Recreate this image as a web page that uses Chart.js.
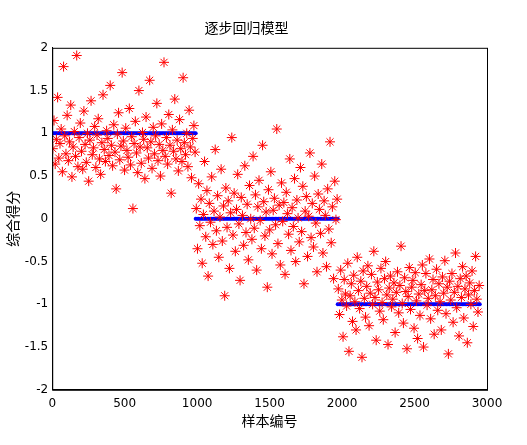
<!DOCTYPE html>
<html>
<head>
<meta charset="utf-8">
<script src="https://cdn.jsdelivr.net/npm/chart.js@4"></script>
<style>
  html, body { margin: 0; padding: 0; background: #fff; }
  #wrap { width: 527px; height: 445px; }
</style>
</head>
<body>
<div id="wrap"><canvas id="c"></canvas></div>
<script>
'use strict'

// Class ranges (sample index) and their true labels
const classStarts = [0, 990, 1970];
const classEnds = [990, 1970, 2950];
const classLabels = [1, 0, -1];

// Predicted scores, one list per class
const scores1 = [0.82,1.15,0.64,0.93,1.42,0.71,0.88,1.05,0.55,1.78,0.97,0.76,1.21,0.68,0.9,1.33,0.49,0.84,1.02,0.73,1.91,0.61,0.95,1.12,0.79,0.58,1.26,0.87,0.66,1.0,0.44,0.92,1.38,0.75,0.83,1.08,0.6,0.98,1.17,0.7,0.52,0.89,1.45,0.81,0.67,1.03,0.94,0.74,1.56,0.86,0.62,1.1,0.78,0.35,0.99,1.24,0.69,0.85,1.71,0.91,0.57,1.06,0.8,0.72,1.29,0.63,0.96,0.12,0.88,1.14,0.77,0.54,1.5,0.84,0.65,1.01,0.93,0.47,1.19,0.83,0.71,1.62,0.9,0.59,1.07,0.76,0.97,1.35,0.68,0.87,0.5,1.11,0.8,1.83,0.73,0.95,0.64,1.22,0.86,0.3,1.04,0.79,1.4,0.7,0.92,0.56,1.16,0.82,0.67,1.65,0.89,0.75,1.0,0.61,1.27,0.84,0.48,0.94,1.09,0.78];
const scores2 = [0.12,-0.35,0.41,-0.08,0.23,-0.52,0.05,0.67,-0.21,0.33,-0.67,0.18,-0.04,0.49,-0.3,0.09,0.81,-0.14,0.27,-0.45,0.02,0.58,-0.26,0.15,-0.9,0.36,-0.1,0.21,-0.58,0.07,0.95,-0.19,0.3,-0.38,0.11,0.52,-0.06,-0.72,0.25,0.04,-0.31,0.62,-0.16,0.17,-0.48,0.39,0.0,-0.24,0.73,-0.11,0.28,-0.6,0.14,0.45,-0.02,-0.35,0.86,0.2,-0.2,0.08,-0.8,0.34,-0.13,0.55,-0.41,0.1,0.24,-0.07,1.05,-0.29,0.16,-0.54,0.42,-0.03,0.19,-0.65,0.31,0.06,-0.18,0.7,-0.37,0.13,-0.09,0.47,-0.5,0.22,0.01,-0.27,0.6,-0.15,0.38,-0.76,0.09,0.26,-0.44,0.03,0.77,-0.22,0.18,-0.33,0.5,-0.05,-0.62,0.29,0.11,-0.17,0.64,-0.4,0.21,0.04,-0.56,0.35,-0.12,0.9,-0.28,0.14,-0.7,0.44,-0.01,0.23];
const scores3 = [-0.82,-1.12,-0.6,-0.95,-1.38,-0.71,-0.88,-1.02,-0.52,-1.55,-0.9,-0.76,-1.2,-0.66,-0.97,-1.3,-0.45,-0.84,-1.05,-0.73,-1.62,-0.61,-0.93,-1.15,-0.79,-0.55,-1.25,-0.87,-0.65,-1.0,-0.38,-0.92,-1.42,-0.74,-0.83,-1.08,-0.58,-0.98,-1.18,-0.7,-0.5,-0.89,-1.47,-0.81,-0.67,-1.03,-0.94,-0.75,-1.33,-0.86,-0.62,-1.1,-0.78,-0.32,-0.99,-1.22,-0.69,-0.85,-1.52,-0.91,-0.57,-1.06,-0.8,-0.72,-1.28,-0.63,-0.96,-1.4,-0.88,-1.13,-0.77,-0.54,-1.5,-0.84,-0.64,-1.01,-0.93,-0.47,-1.17,-0.83,-0.71,-1.35,-0.9,-0.59,-1.07,-0.76,-0.97,-1.3,-0.68,-0.87,-0.49,-1.11,-0.8,-1.58,-0.73,-0.95,-0.64,-1.21,-0.86,-0.4,-1.04,-0.79,-1.37,-0.7,-0.92,-0.56,-1.16,-0.82,-0.67,-1.45,-0.89,-0.75,-1.0,-0.61,-1.26,-0.84,-0.44,-0.94,-1.09,-0.78];

const xTicks = [0, 500, 1000, 1500, 2000, 2500, 3000];
const yTicks = [-2, -1.5, -1, -0.5, 0, 0.5, 1, 1.5, 2];

const allScores = [scores1, scores2, scores3];

// Spread each class's scores over its sample range.
let redPoints = [];
let bluePoints = [];
for (let k = 0; k < allScores.length; k++) {
    let list = allScores[k];
    let step = (classEnds[k] - classStarts[k]) / list.length;
    for (let i = 0; i < list.length; i++) {
        redPoints.push({x: classStarts[k] + step * (i + 0.5), y: list[i]});
    }
    for (let s = classStarts[k]; s <= classEnds[k]; s += 10) {
        bluePoints.push({x: s, y: classLabels[k]});
    }
}

const cjk = '"DejaVu Sans", "Noto Sans CJK SC", sans-serif';

const framePlugin = {
    id: 'frame',
    afterDraw(chart) {
        const a = chart.chartArea;
        const ctx = chart.ctx;
        ctx.save();
        ctx.strokeStyle = '#000';
        ctx.lineWidth = 1;
        ctx.strokeRect(a.left + 0.5, a.top + 0.5, a.right - a.left, a.bottom - a.top);
        ctx.restore();
    }
};

new Chart(document.getElementById('c').getContext('2d'), {
    type: 'scatter',
    data: {
        datasets: [{
            data: redPoints,
            order: 0,
            pointStyle: 'star',
            pointRadius: 5,
            borderColor: '#ff0000',
            backgroundColor: '#ff0000',
            borderWidth: 1
        }, {
            data: bluePoints,
            order: 1,
            pointStyle: 'circle',
            pointRadius: 2,
            backgroundColor: '#0000ff',
            borderColor: '#0000ff',
            borderWidth: 0
        }]
    },
    plugins: [framePlugin],
    options: {
        responsive: true,
        maintainAspectRatio: false,
        animation: false,
        layout: {padding: {left: 6, right: 40, top: 7, bottom: 14}},
        plugins: {
            legend: {display: false},
            tooltip: {enabled: false},
            title: {
                display: true,
                text: '逐步回归模型',
                color: '#000',
                font: {family: cjk, size: 14, weight: 'normal'},
                padding: {top: 14, bottom: 10}
            }
        },
        scales: {
            x: {
                min: 0, max: 3000,
                afterBuildTicks: (axis) => { axis.ticks = xTicks.map(v => ({value: v})); },
                grid: {display: false, tickLength: 4},
                border: {color: '#000'},
                ticks: {color: '#000', font: {family: cjk, size: 12}, maxRotation: 0, callback: (v) => String(v)},
                title: {display: true, text: '样本编号', color: '#000', font: {family: cjk, size: 14}, padding: 0}
            },
            y: {
                min: -2, max: 2,
                afterBuildTicks: (axis) => { axis.ticks = yTicks.map(v => ({value: v})); },
                grid: {display: false, tickLength: 2},
                border: {color: '#000'},
                ticks: {color: '#000', font: {family: cjk, size: 12}, padding: 2, callback: (v) => String(v)},
                title: {display: true, text: '综合得分', color: '#000', font: {family: cjk, size: 14}, padding: 0}
            }
        }
    }
});
</script>
</body>
</html>
